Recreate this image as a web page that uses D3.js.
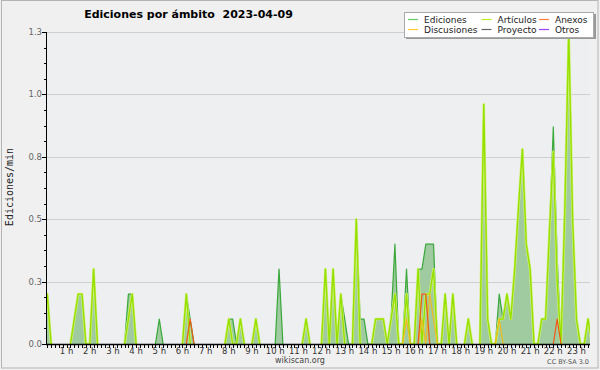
<!DOCTYPE html>
<html>
<head>
<meta charset="utf-8">
<script src="https://cdn.jsdelivr.net/npm/d3@7"></script>
<style>
  body { margin: 0; background: #f0f0f0; }
  svg { display: block; font-family: "DejaVu Sans", sans-serif; }
</style>
</head>
<body>
<svg id="chart" width="600" height="370"></svg>
<script>
const W = 600, H = 370;

// edits per minute, one value per 10 minute slot (6 per hour, one row per hour)
const ediciones = [
  0, 0.2, 0, 0, 0, 0,
  0, 0, 0.1, 0.2, 0.2, 0,
  0, 0.3, 0, 0, 0, 0,
  0, 0, 0, 0, 0.2, 0.2,
  0, 0, 0, 0, 0, 0,
  0.1, 0, 0, 0, 0, 0,
  0, 0.2, 0.1, 0, 0, 0,
  0, 0, 0, 0, 0, 0,
  0.1, 0.1, 0, 0.1, 0, 0,
  0, 0.1, 0, 0, 0, 0,
  0, 0.3, 0, 0, 0, 0,
  0, 0, 0.1, 0, 0, 0,
  0, 0.3, 0, 0.3, 0, 0.2,
  0.1, 0, 0, 0.5, 0.1, 0.1,
  0, 0, 0.1, 0.1, 0.1, 0,
  0.1, 0.4, 0, 0, 0.3, 0,
  0, 0.3, 0.3, 0.4, 0.4, 0.4,
  0, 0, 0.2, 0, 0.2, 0,
  0, 0, 0.1, 0, 0, 0,
  0.96, 0.1, 0, 0, 0.2, 0.1,
  0.2, 0.1, 0.3, 0.55, 0.78, 0.4,
  0.3, 0, 0, 0.1, 0.1, 0.45,
  0.87, 0.35, 0, 0.55, 1.25, 0.5,
  0.1, 0, 0, 0.1, 0, 0
];
const articulos = [
  0, 0.2, 0, 0, 0, 0,
  0, 0, 0.1, 0.2, 0.2, 0,
  0, 0.3, 0, 0, 0, 0,
  0, 0, 0, 0, 0.1, 0.2,
  0, 0, 0, 0, 0, 0,
  0, 0, 0, 0, 0, 0,
  0, 0.2, 0, 0, 0, 0,
  0, 0, 0, 0, 0, 0,
  0.1, 0, 0, 0.1, 0, 0,
  0, 0.1, 0, 0, 0, 0,
  0, 0, 0, 0, 0, 0,
  0, 0, 0.1, 0, 0, 0,
  0, 0.3, 0, 0.3, 0, 0.2,
  0, 0, 0, 0.5, 0, 0,
  0, 0, 0.1, 0.1, 0.1, 0,
  0.1, 0.2, 0, 0, 0.2, 0,
  0, 0.3, 0, 0.2, 0.2, 0.3,
  0, 0, 0.2, 0, 0.2, 0,
  0, 0, 0.1, 0, 0, 0,
  0.96, 0.1, 0, 0, 0.1, 0.1,
  0.2, 0.1, 0.3, 0.55, 0.78, 0.4,
  0.3, 0, 0, 0.1, 0.1, 0.45,
  0.77, 0.25, 0, 0.55, 1.25, 0.5,
  0.1, 0, 0, 0.1, 0, 0
];
const discusiones = Array(144).fill(0);
discusiones[94] = 0.1; discusiones[98] = 0.1; discusiones[100] = 0.2;
discusiones[101] = 0.1; discusiones[118] = 0.1;
const anexos = Array(144).fill(0);
anexos[38] = 0.1; anexos[98] = 0.2; anexos[99] = 0.2; anexos[133] = 0.1;
const proyecto = Array(144).fill(0);
const otros = Array(144).fill(0);

const yTicks = [0, 0.25, 0.5, 0.75, 1.0, 1.25];
const yTickLabels = ['0.0', '0.3', '0.5', '0.8', '1.0', '1.3'];
const hourTicks = d3.range(1, 24);
const hourLabels = hourTicks.map(h => h + ' h');

const legendNames = ['Ediciones', 'Artículos', 'Anexos', 'Discusiones', 'Proyecto', 'Otros'];
const legendColors = ['#66cc66', '#bbee22', '#ff7f40', '#ffcc33', '#666666', '#9944ff'];

const svg = d3.select('#chart');

// background + frame
svg.append('rect').attr('width', W).attr('height', H).attr('fill', '#f0f0f0');
svg.append('rect').attr('x', 1.5).attr('y', 0.5).attr('width', 596.5).attr('height', 367.5)
  .attr('fill', 'none').attr('stroke', '#b4b4b4');

const x = d3.scaleLinear().domain([8, 1415]).range([46.5, 590]);
const y = d3.scaleLinear().domain([0, 1.25]).range([344, 32]);

svg.append('rect')
  .attr('x', x.range()[0]).attr('y', y.range()[1])
  .attr('width', x.range()[1] - x.range()[0]).attr('height', y.range()[0] - y.range()[1])
  .attr('fill', '#eeeff1');

svg.append('clipPath').attr('id', 'clip')
  .append('rect')
  .attr('x', x.range()[0]).attr('y', y.range()[1] - 5)
  .attr('width', x.range()[1] - x.range()[0]).attr('height', y.range()[0] - y.range()[1] + 5);

// grid
svg.append('g').selectAll('line').data(yTicks.slice(1)).join('line')
  .attr('x1', x.range()[0]).attr('x2', x.range()[1])
  .attr('y1', d => Math.round(y(d)) + 0.5).attr('y2', d => Math.round(y(d)) + 0.5)
  .attr('stroke', '#cfcfcf');

const minutes = d3.range(144).map(i => i * 10);
const plot = svg.append('g').attr('clip-path', 'url(#clip)');

plot.append('path')
  .datum(ediciones)
  .attr('fill', '#a0cba0')
  .attr('d', d3.area().x((d, i) => x(minutes[i])).y0(y(0)).y1(d => y(d)));

function drawLine(values, color, width) {
  const visible = (d, i) => d > 0 || values[i - 1] > 0 || values[i + 1] > 0;
  plot.append('path')
    .datum(values)
    .attr('fill', 'none')
    .attr('stroke', color)
    .attr('stroke-width', width)
    .attr('stroke-linejoin', 'round')
    .attr('d', d3.line().defined(visible).x((d, i) => x(minutes[i])).y(d => y(d)));
}

drawLine(ediciones, '#3aa83a', 1.2);
drawLine(articulos, '#d4f080', 2.6);
drawLine(articulos, '#96e000', 1.4);
drawLine(discusiones, '#f0bb20', 1.2);
drawLine(anexos, '#f05a14', 1.2);
drawLine(proyecto, '#666666', 1.2);
drawLine(otros, '#9944ff', 1.2);

// y axis
const yAxis = svg.append('g');
yAxis.append('line').attr('x1', 46.5).attr('x2', 46.5).attr('y1', y(1.25)).attr('y2', y(0) + 1)
  .attr('stroke', '#000');
yAxis.selectAll('.minor').data(d3.range(0, 1.25001, 0.0625)).join('line')
  .attr('x1', 44).attr('x2', 46.5)
  .attr('y1', d => Math.round(y(d)) + 0.5).attr('y2', d => Math.round(y(d)) + 0.5)
  .attr('stroke', '#000');
yAxis.selectAll('.major').data(yTicks).join('line')
  .attr('x1', 42).attr('x2', 46.5)
  .attr('y1', d => Math.round(y(d)) + 0.5).attr('y2', d => Math.round(y(d)) + 0.5)
  .attr('stroke', '#000');
yAxis.selectAll('text').data(yTicks).join('text')
  .attr('x', 42).attr('y', d => y(d) + 3)
  .attr('text-anchor', 'end').attr('font-size', 8.5).attr('fill', '#666')
  .text((d, i) => yTickLabels[i]);

// x axis
const xAxis = svg.append('g');
xAxis.append('line').attr('x1', 46).attr('x2', 590).attr('y1', 344.5).attr('y2', 344.5)
  .attr('stroke', '#000').attr('stroke-width', 1.5);
xAxis.selectAll('line.tick').data(d3.range(10, 1420, 10).filter(m => x(m) >= 46 && x(m) <= 590.5)).join('line')
  .attr('x1', d => Math.round(x(d)) + 0.5).attr('x2', d => Math.round(x(d)) + 0.5)
  .attr('y1', 344).attr('y2', 348)
  .attr('stroke', '#000');
xAxis.selectAll('text').data(hourTicks).join('text')
  .attr('x', d => x(d * 60)).attr('y', 354)
  .attr('text-anchor', 'middle').attr('font-size', 8.5).attr('fill', '#333')
  .text((d, i) => hourLabels[i]);

// titles
svg.append('text').attr('x', 188.5).attr('y', 18)
  .attr('text-anchor', 'middle').attr('font-size', 11).attr('font-weight', 'bold')
  .attr('xml:space', 'preserve').style('white-space', 'pre')
  .text('Ediciones por ámbito  2023-04-09');

svg.append('text')
  .attr('transform', 'translate(13,187) rotate(-90)')
  .attr('text-anchor', 'middle').attr('font-size', 10)
  .attr('font-family', '"DejaVu Sans Mono", monospace').attr('fill', '#222')
  .text('Ediciones/min');

svg.append('text').attr('x', 300).attr('y', 363)
  .attr('text-anchor', 'middle').attr('font-size', 8).attr('fill', '#444')
  .text('wikiscan.org');

svg.append('text').attr('x', 589).attr('y', 364)
  .attr('text-anchor', 'end').attr('font-size', 6.5).attr('fill', '#555')
  .text('CC BY-SA 3.0');

// legend
const legend = svg.append('g');
legend.append('rect').attr('x', 406).attr('y', 14).attr('width', 190).attr('height', 25).attr('fill', '#999');
legend.append('rect').attr('x', 404.5).attr('y', 12.5).attr('width', 189).attr('height', 25)
  .attr('fill', '#fff').attr('stroke', '#aaa');
const colX = [408, 481.5, 539];
const rowY = [19.5, 29.5];
legendNames.forEach((name, i) => {
  const cx = colX[i % 3], cy = rowY[Math.floor(i / 3)];
  legend.append('line').attr('x1', cx).attr('x2', cx + 10).attr('y1', cy).attr('y2', cy)
    .attr('stroke', legendColors[i]).attr('stroke-width', 1.2);
  legend.append('text').attr('x', cx + 16).attr('y', cy + 3.5)
    .attr('font-size', 9).attr('fill', '#222').text(name);
});
</script>
</body>
</html>
